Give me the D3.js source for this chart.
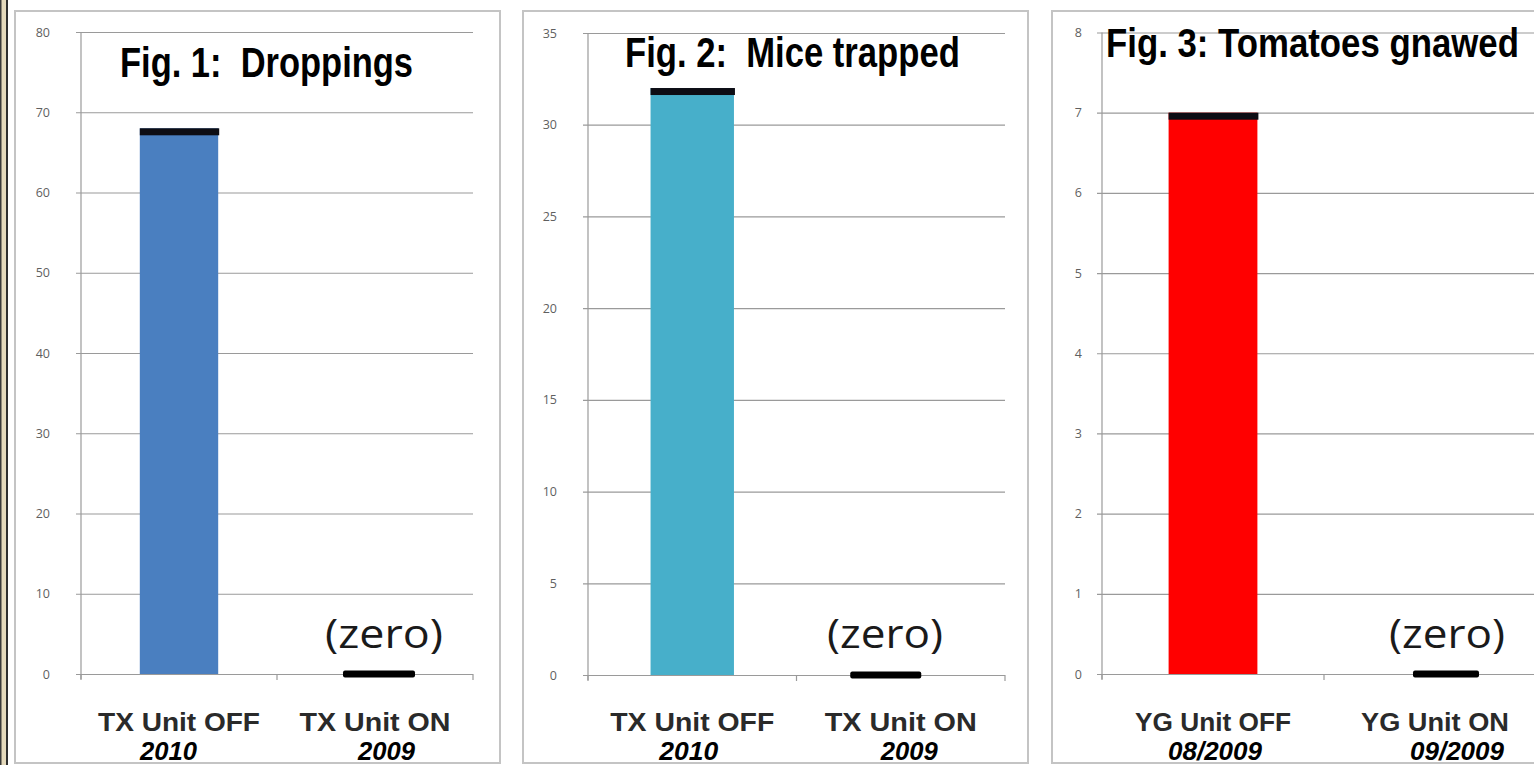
<!DOCTYPE html>
<html>
<head>
<meta charset="utf-8">
<script src="https://cdn.jsdelivr.net/npm/d3@7"></script>
<style>
  html, body { margin: 0; padding: 0; background: #ffffff; }
  svg { display: block; }
</style>
</head>
<body>
<svg id="chart" width="1534" height="765"></svg>
<script>
// ---------------- DATA ----------------
const titles = ["Fig. 1:  Droppings", "Fig. 2:  Mice trapped", "Fig. 3: Tomatoes gnawed"];
const categories1 = ["TX Unit OFF", "TX Unit ON"];
const categories2 = ["TX Unit OFF", "TX Unit ON"];
const categories3 = ["YG Unit OFF", "YG Unit ON"];
const periods1 = ["2010", "2009"];
const periods2 = ["2010", "2009"];
const periods3 = ["08/2009", "09/2009"];
const values1 = [68, 0];
const values2 = [32, 0];
const values3 = [7, 0];
const yMax = [80, 35, 8];
const yStep = [10, 5, 1];
const zeroNote = "(zero)";

// ---------------- LAYOUT / STYLE ----------------
const panels = [
  { box: [15, 11, 500, 763], plot: [81, 473], y0: 674, yTop: 32, color: "#4a7fc0",
    titleX: 120, titleY: 77, titleW: 293, titleSize: 43, tickOff: 31,
    catW: [162, 151], perDx: [-10.5, 11.5], perW: [57, 57],
    zeroDx: 4, zeroW: 72, noteX: 384, noteW: 118 },
  { box: [523, 11, 1028, 763], plot: [588, 1005], y0: 675, yTop: 33, color: "#47afca",
    titleX: 625, titleY: 67, titleW: 335, titleSize: 43, tickOff: 31,
    catW: [164, 152], perDx: [-3.5, 8.5], perW: [59, 57],
    zeroDx: -15, zeroW: 71, noteX: 885, noteW: 116 },
  { box: [1052, 11, 1560, 763], plot: [1102, 1546], y0: 674, yTop: 32.5, color: "#ff0000",
    titleX: 1106, titleY: 57, titleW: 413, titleSize: 41, tickOff: 20,
    catW: [156, 148], perDx: [2, 22], perW: [94, 94],
    zeroDx: 11, zeroW: 66, noteX: 1447, noteW: 116 }
];
const allCats = [categories1, categories2, categories3];
const allPeriods = [periods1, periods2, periods3];
const allValues = [values1, values2, values3];

const narrow = "'Liberation Sans Narrow','Arial Narrow','Liberation Sans',Arial,sans-serif";
const sans = "'Open Sans','Noto Sans','Liberation Sans',sans-serif";
const labelFont = "'Liberation Sans',Arial,sans-serif";

const svg = d3.select("#chart");

// left decorative strip
svg.append("rect").attr("x", 0).attr("y", 0).attr("width", 7).attr("height", 765).attr("fill", "#e4d9bb");
svg.append("rect").attr("x", 0).attr("y", 0).attr("width", 1.5).attr("height", 765).attr("fill", "#3a3a3a");
svg.append("rect").attr("x", 6).attr("y", 0).attr("width", 2).attr("height", 765).attr("fill", "#2e2e2e");

panels.forEach((p, i) => {
  const g = svg.append("g");
  const [bx0, by0, bx1, by1] = p.box;
  g.append("rect")
    .attr("x", bx0).attr("y", by0)
    .attr("width", bx1 - bx0).attr("height", by1 - by0)
    .attr("fill", "#ffffff").attr("stroke", "#c4c4c4").attr("stroke-width", 2);

  const cats = allCats[i], vals = allValues[i], pers = allPeriods[i];
  const x = d3.scaleBand().domain(cats).range(p.plot).paddingInner(0.6).paddingOuter(0.3);
  const xb = d3.scaleBand().domain(cats).range(p.plot); // full bands for ticks
  const y = d3.scaleLinear().domain([0, yMax[i]]).range([p.y0, p.yTop]);
  const w = p.plot[1] - p.plot[0];
  const ticks = d3.range(0, yMax[i] + yStep[i] / 2, yStep[i]);

  // y axis with gridlines
  const ax = g.append("g").attr("transform", `translate(${p.plot[0]},0)`)
    .call(d3.axisLeft(y).tickValues(ticks).tickSize(-w).tickSizeOuter(0));
  ax.select(".domain").attr("stroke", "#9a9a9a").attr("stroke-width", 1.2)
    .attr("d", `M0,${p.yTop}V${p.y0 + 5}`);
  ax.selectAll(".tick line").attr("x1", -5).attr("x2", w).attr("stroke", "#9a9a9a").attr("stroke-width", 1.2);
  ax.selectAll(".tick text")
    .attr("x", -p.tickOff).attr("dy", "0.32em")
    .attr("fill", "#5f5f5f").style("font-family", sans).style("font-size", "12.5px");

  // category ticks along baseline
  const bounds = cats.map(c => xb(c)).concat([xb.range()[1]]);
  g.selectAll(".ctick").data(bounds).enter().append("line")
    .attr("x1", d => d).attr("x2", d => d)
    .attr("y1", p.y0).attr("y2", p.y0 + 6)
    .attr("stroke", "#9a9a9a").attr("stroke-width", 1.2);

  // bars
  vals.forEach((v, k) => {
    if (v > 0) {
      g.append("rect")
        .attr("x", x(cats[k])).attr("y", y(v))
        .attr("width", x.bandwidth()).attr("height", y(0) - y(v))
        .attr("fill", p.color);
      // black cap on bar top
      g.append("rect")
        .attr("x", x(cats[k])).attr("y", y(v))
        .attr("width", x.bandwidth() + 1).attr("height", 7)
        .attr("fill", "#0d0d14");
    } else {
      const cx = xb(cats[k]) + xb.bandwidth() / 2 + p.zeroDx;
      g.append("rect")
        .attr("x", cx - p.zeroW / 2).attr("y", y(v) - 3.5)
        .attr("width", p.zeroW).attr("height", 7)
        .attr("rx", 2)
        .attr("fill", "#000000");
      g.append("text")
        .attr("x", p.noteX).attr("y", 648)
        .attr("text-anchor", "middle")
        .attr("textLength", p.noteW).attr("lengthAdjust", "spacingAndGlyphs")
        .style("font-family", sans).style("font-size", "40px").attr("fill", "#1a1a1a")
        .text(zeroNote);
    }
  });

  // category labels
  cats.forEach((c, k) => {
    const cx = xb(c) + xb.bandwidth() / 2;
    g.append("text")
      .attr("x", cx).attr("y", 731)
      .attr("text-anchor", "middle")
      .attr("textLength", p.catW[k]).attr("lengthAdjust", "spacingAndGlyphs")
      .style("font-family", labelFont).style("font-weight", "bold").style("font-size", "25px")
      .attr("fill", "#2a2a2a")
      .text(c);
    g.append("text")
      .attr("x", cx + p.perDx[k]).attr("y", 759.5)
      .attr("text-anchor", "middle")
      .attr("textLength", p.perW[k]).attr("lengthAdjust", "spacingAndGlyphs")
      .style("font-family", narrow).style("font-weight", "bold").style("font-style", "italic")
      .style("font-size", "25px").attr("fill", "#000")
      .text(pers[k]);
  });

  // title (horizontally scaled to the measured width)
  const t = g.append("text")
    .attr("x", 0).attr("y", 0)
    .attr("xml:space", "preserve")
    .style("white-space", "pre")
    .style("font-family", narrow).style("font-weight", "bold").style("font-size", p.titleSize + "px")
    .attr("fill", "#000")
    .text(titles[i]);
  const natural = t.node().getComputedTextLength();
  const sx = natural > 0 ? p.titleW / natural : 1;
  t.attr("transform", `translate(${p.titleX},${p.titleY}) scale(${sx},1)`);
});
</script>
</body>
</html>
